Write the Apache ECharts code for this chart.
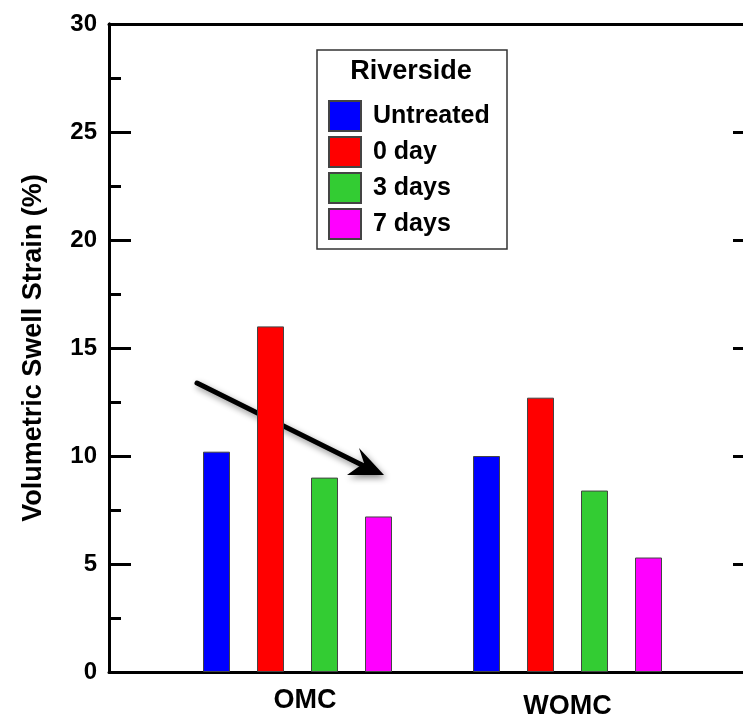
<!DOCTYPE html>
<html>
<head>
<meta charset="utf-8">
<script src="https://cdn.jsdelivr.net/npm/echarts@6/dist/echarts.min.js"></script>
<style>
html, body { margin: 0; padding: 0; background: #fff; }
#chart { width: 743px; height: 717px; }
</style>
</head>
<body>
<div id="chart"></div>
<script>
// data
var categories = ['OMC', 'WOMC'];
var seriesNames = ['Untreated', '0 day', '3 days', '7 days'];
var untreated = [10.2, 10.0];
var day0 = [16.0, 12.7];
var day3 = [9.0, 8.4];
var day7 = [7.2, 5.3];
var colors = ['#0000ff', '#ff0000', '#33cc33', '#ff00ff'];

var font = 'Liberation Sans';
var chart = echarts.init(document.getElementById('chart'));

function bar(name, data, i) {
    return {
        name: name,
        type: 'bar',
        xAxisIndex: 2,
        yAxisIndex: 4,
        barWidth: 27,
        barGap: '100%',
        itemStyle: { color: colors[i], borderColor: '#444', borderWidth: 1 },
        data: data
    };
}

// frame y axis: interval 5 = long ticks, 2.5 = short ticks
function frameY(pos, step, len, labels) {
    return {
        type: 'value', gridIndex: 0, position: pos, min: 0, max: 30, interval: step,
        offset: pos === 'right' ? 12 : 0,
        axisLine: { show: true, lineStyle: { color: '#000', width: 3 } },
        axisTick: { show: true, inside: true, length: len, lineStyle: { color: '#000', width: 3 } },
        axisLabel: labels ? { show: true, margin: 12, fontFamily: font, fontWeight: 'bold', fontSize: 24, color: '#000' } : { show: false },
        splitLine: { show: false }
    };
}

var option = {
    animation: false,
    backgroundColor: '#fff',
    grid: [
        { left: 109, right: 0, top: 24, bottom: 45, outerBoundsMode: 'none' },
        { left: 162.5, right: 40.5, top: 24, bottom: 45, outerBoundsMode: 'none' }
    ],
    xAxis: [
        { type: 'value', gridIndex: 0, position: 'bottom', min: 0, max: 1,
          axisLine: { show: true, onZero: false, lineStyle: { color: '#000', width: 3 } },
          axisTick: { show: false }, axisLabel: { show: false }, splitLine: { show: false } },
        { type: 'value', gridIndex: 0, position: 'top', min: 0, max: 1,
          axisLine: { show: true, onZero: false, lineStyle: { color: '#000', width: 3 } },
          axisTick: { show: false }, axisLabel: { show: false }, splitLine: { show: false } },
        { type: 'category', gridIndex: 1, data: categories,
          axisLine: { show: false }, axisTick: { show: false },
          axisLabel: {
              margin: 15,
              formatter: function (v) { return v === 'OMC' ? '{a|' + v + '}' : '{b|' + v + '}'; },
              rich: {
                  a: { fontFamily: font, fontWeight: 'bold', fontSize: 27, color: '#000', padding: [0, 0, 0, 15] },
                  b: { fontFamily: font, fontWeight: 'bold', fontSize: 27, color: '#000', padding: [6, 0, 0, 0] }
              }
          } }
    ],
    yAxis: [
        Object.assign(frameY('left', 5, 22, true), {
            name: 'Volumetric Swell Strain (%)',
            nameLocation: 'middle',
            nameGap: 62,
            nameTextStyle: { fontFamily: font, fontWeight: 'bold', fontSize: 27, color: '#000' }
        }),
        frameY('left', 2.5, 12, false),
        frameY('right', 5, 22, false),
        frameY('right', 2.5, 12, false),
        { type: 'value', gridIndex: 1, min: 0, max: 30, show: false }
    ],
    legend: {
        orient: 'vertical',
        left: 328,
        top: 100,
        padding: 0,
        itemWidth: 32,
        itemHeight: 30,
        itemGap: 4,
        icon: 'rect',
        data: seriesNames,
        textStyle: { fontFamily: font, fontWeight: 'bold', fontSize: 25, color: '#000', padding: [0, 0, 0, 7] }
    },
    graphic: [
        { type: 'rect', shape: { x: 317, y: 50, width: 190, height: 199 },
          style: { fill: 'none', stroke: '#333', lineWidth: 1.5 }, z: 1 },
        { type: 'text', x: 411, y: 72,
          style: { text: 'Riverside', fontFamily: font, fontWeight: 'bold', fontSize: 27,
                   fill: '#000', align: 'center', verticalAlign: 'middle' }, z: 2 },
        // arrow annotation
        { type: 'group', z: 100, children: [
            { type: 'line', shape: { x1: 197, y1: 383, x2: 362, y2: 465 },
              style: { stroke: '#000', lineWidth: 5, lineCap: 'round',
                       shadowBlur: 6, shadowColor: 'rgba(0,0,0,0.45)', shadowOffsetX: 2, shadowOffsetY: 3 } },
            { type: 'polygon', shape: { points: [[384, 475], [359, 448], [364, 463], [347, 475]] },
              style: { fill: '#000',
                       shadowBlur: 6, shadowColor: 'rgba(0,0,0,0.45)', shadowOffsetX: 2, shadowOffsetY: 3 } }
        ] }
    ],
    series: [
        bar(seriesNames[0], untreated, 0),
        bar(seriesNames[1], day0, 1),
        bar(seriesNames[2], day3, 2),
        bar(seriesNames[3], day7, 3)
    ]
};

chart.setOption(option);
</script>
</body>
</html>
